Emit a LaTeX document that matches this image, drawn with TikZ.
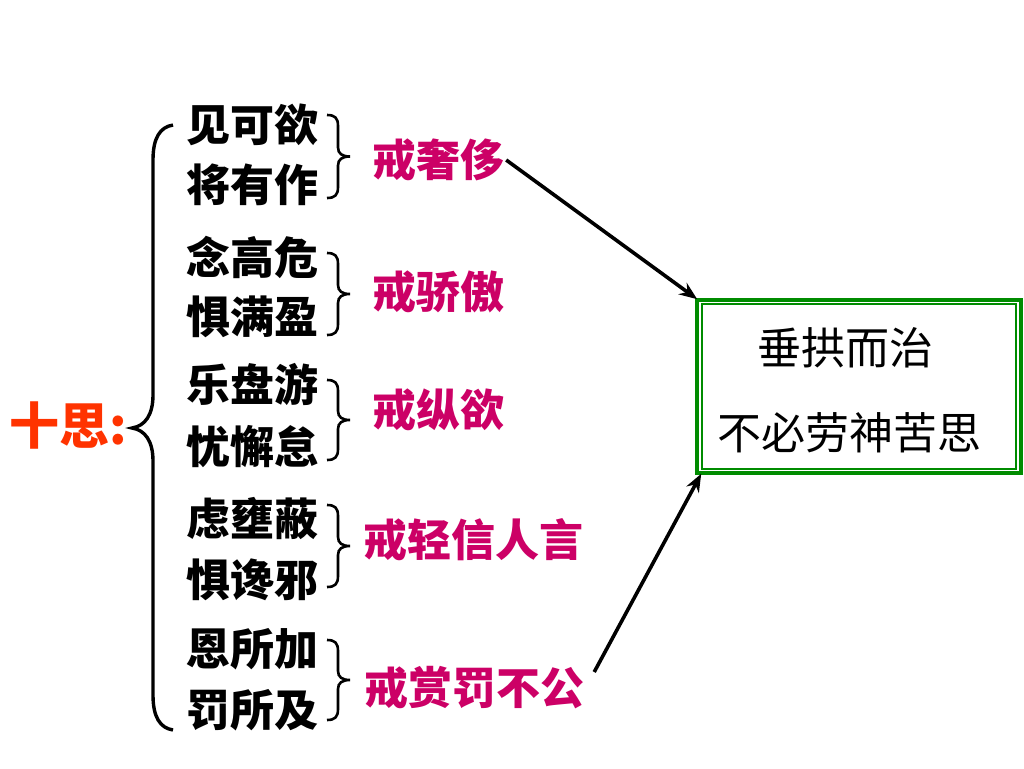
\documentclass[tikz,border=0pt]{standalone}
\usepackage{fontspec}
\setmainfont{Noto Sans CJK SC}
\usetikzlibrary{arrows.meta}
\definecolor{lblred}{RGB}{204,0,102}
\definecolor{titred}{RGB}{255,51,0}
\definecolor{boxgreen}{RGB}{0,140,0}
\tikzset{
  row/.style={inner sep=0pt, font=\fontsize{44pt}{44pt}\selectfont\bfseries, text=black},
  lbl/.style={inner sep=0pt, font=\fontsize{44pt}{44pt}\selectfont\bfseries, text=lblred},
  boxtxt/.style={inner sep=0pt, font=\fontsize{44pt}{44pt}\selectfont, text=black},
  brc/.style={line width=2.6pt, black},
  bigbrc/.style={line width=3.4pt, black},
  arr/.style={line width=3.6pt, black, -{Stealth[length=18pt,width=14pt]}}
}
\begin{document}
\begin{tikzpicture}[x=1pt,y=-1pt]
\useasboundingbox[fill=white] (0,0) rectangle (1024,768);
% title
\node[inner sep=0pt, font=\fontsize{50pt}{50pt}\selectfont\bfseries, text=titred] (title) at (68,425) {十思:};
% big brace
\draw[bigbrc] (173,125) .. controls (160,127) and (153,138) .. (153,160) -- (153,395) .. controls (153,415) and (145,426) .. (132,428) .. controls (145,430) and (153,441) .. (153,461) -- (153,695) .. controls (153,717) and (160,728) .. (173,730);
% rows
\node[row] (r1) at (252,125) {见可欲};
\node[row] (r2) at (252,185) {将有作};
\node[row] (r3) at (252,257) {念高危};
\node[row] (r4) at (252,317) {惧满盈};
\node[row] (r5) at (252,384) {乐盘游};
\node[row] (r6) at (252,447) {忧懈怠};
\node[row] (r7) at (252,519) {虑壅蔽};
\node[row] (r8) at (252,580) {惧谗邪};
\node[row] (r9) at (252,649) {恩所加};
\node[row] (r10) at (252,710) {罚所及};
% small braces
\foreach \t/\b in {115/198,253/335,380/460,505/587,640/720}{
  \pgfmathsetmacro\m{(\t+\b)/2}
  \draw[brc] (327,\t) .. controls (335,{\t}) and (338,{\t+3}) .. (338,{\t+11}) -- (338,{\m-9}) .. controls (338,{\m-3}) and (342,{\m}) .. (350,\m) .. controls (342,{\m}) and (338,{\m+3}) .. (338,{\m+9}) -- (338,{\b-11}) .. controls (338,{\b-3}) and (335,{\b}) .. (327,\b);
}
% labels
\node[lbl] (l1) at (438,160) {戒奢侈};
\node[lbl] (l2) at (438,292) {戒骄傲};
\node[lbl] (l3) at (438,410) {戒纵欲};
\node[lbl] (l4) at (473,540) {戒轻信人言};
\node[lbl] (l5) at (474,688) {戒赏罚不公};
% box
\node[draw=boxgreen, line width=3.6pt, minimum width=324pt, minimum height=173pt, inner sep=0pt] (box) at (859,386.5) {};
\draw[boxgreen, line width=1.8pt] ([xshift=6.5pt,yshift=-5.5pt]box.north west) rectangle ([xshift=-6.5pt,yshift=5.5pt]box.south east);
\node[boxtxt] (t1) at (845,348) {垂拱而治};
\node[boxtxt] (t2) at (849,433) {不必劳神苦思};
% arrows
\draw[arr] ([xshift=2pt]l1.east) -- ([xshift=2pt,yshift=-1pt]box.north west);
\draw[arr] ([xshift=10pt,yshift=16pt]l5.east) -- ([xshift=6pt,yshift=1pt]box.south west);
\end{tikzpicture}
\end{document}
